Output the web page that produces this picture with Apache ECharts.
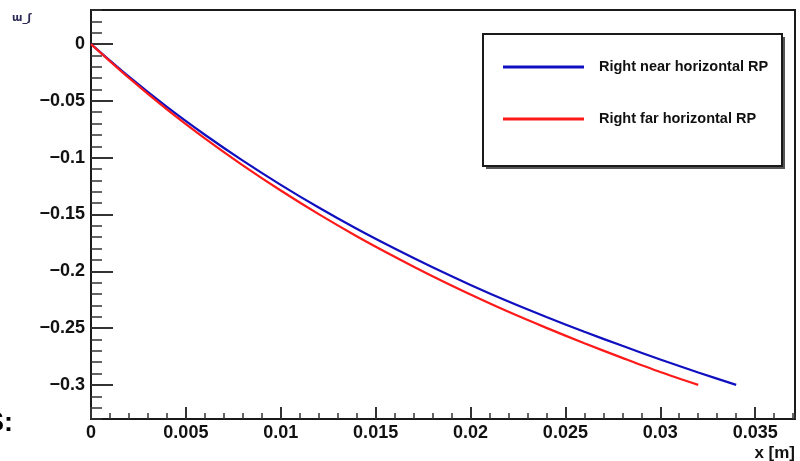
<!DOCTYPE html>
<html>
<head>
<meta charset="utf-8">
<script src="https://cdn.jsdelivr.net/npm/echarts@6/dist/echarts.min.js"></script>
<style>
  html, body { margin: 0; padding: 0; background: #ffffff; }
  #chart { width: 800px; height: 461px; }
</style>
</head>
<body>
<div id="chart"></div>
<script>
// Horizontal displacement of the right-side Roman Pots versus x
const nearX = [0, 0.002, 0.004, 0.006, 0.008, 0.010, 0.012, 0.014, 0.016, 0.018,
               0.020, 0.022, 0.024, 0.026, 0.028, 0.030, 0.032, 0.034];
const nearY = [0, -0.0287, -0.0553, -0.0798, -0.1026, -0.1239, -0.1439, -0.1626, -0.1800, -0.1965,
               -0.2120, -0.2266, -0.2402, -0.2532, -0.2656, -0.2776, -0.2890, -0.3000];
const farX  = [0, 0.002, 0.004, 0.006, 0.008, 0.010, 0.012, 0.014, 0.016, 0.018,
               0.020, 0.022, 0.024, 0.026, 0.028, 0.030, 0.032];
const farY  = [0, -0.0298, -0.0575, -0.0830, -0.1067, -0.1289, -0.1497, -0.1691, -0.1872, -0.2044,
               -0.2205, -0.2357, -0.2498, -0.2633, -0.2762, -0.2887, -0.3000];

const seriesNames = ['Right near horizontal RP', 'Right far horizontal RP'];

const xTicks = [0, 0.005, 0.01, 0.015, 0.02, 0.025, 0.03, 0.035];
const xTickLabels = ['0', '0.005', '0.01', '0.015', '0.02', '0.025', '0.03', '0.035'];
const yTicks = [0, -0.05, -0.1, -0.15, -0.2, -0.25, -0.3];
const yTickLabels = ['0', '\u22120.05', '\u22120.1', '\u22120.15', '\u22120.2', '\u22120.25', '\u22120.3'];

const xTitle = 'x [m]';
const yTitle = '\u026F_\u0283';
const sideText = 'S:';

const FONT = '"Liberation Sans", Arial, Helvetica, sans-serif';
const INK = '#1a1a1a';

function pairs(xs, ys) { return xs.map((x, i) => [x, ys[i]]); }
function labelFor(ticks, labels) {
  return v => {
    const i = ticks.findIndex(t => Math.abs(t - v) < 1e-9);
    return i >= 0 ? labels[i] : '';
  };
}

const X_MIN = 0, X_MAX = 0.0371;
const Y_MIN = -0.33, Y_MAX = 0.03;

const chart = echarts.init(document.getElementById('chart'), null, { renderer: 'canvas' });

chart.setOption({
  backgroundColor: '#ffffff',
  animation: false,
  grid: {
    left: 91, right: 5, top: 10, bottom: 42,
    show: true, borderColor: INK, borderWidth: 2, backgroundColor: 'transparent'
  },
  xAxis: [
    {
      type: 'value', min: X_MIN, max: X_MAX, position: 'bottom',
      axisLine: { show: true, onZero: false, lineStyle: { color: INK, width: 2 } },
      axisTick: { show: true, inside: true, length: 12, customValues: xTicks, lineStyle: { color: '#333', width: 2 } },
      axisLabel: {
        show: true, customValues: xTicks, formatter: labelFor(xTicks, xTickLabels),
        margin: 5, color: '#111', fontSize: 18, fontWeight: 'bold', fontFamily: FONT
      },
      splitLine: { show: false }
    },
    {
      type: 'value', min: X_MIN, max: X_MAX, interval: 0.001, position: 'bottom',
      axisLine: { show: false, onZero: false },
      axisTick: { show: true, inside: true, length: 6, lineStyle: { color: '#333', width: 1.5 } },
      axisLabel: { show: false },
      splitLine: { show: false }
    }
  ],
  yAxis: [
    {
      type: 'value', min: Y_MIN, max: Y_MAX, position: 'left',
      axisLine: { show: true, onZero: false, lineStyle: { color: INK, width: 2 } },
      axisTick: { show: true, inside: true, length: 22, customValues: yTicks, lineStyle: { color: '#333', width: 2 } },
      axisLabel: {
        show: true, customValues: yTicks, formatter: labelFor(yTicks, yTickLabels),
        margin: 6, color: '#111', fontSize: 18, fontWeight: 'bold', fontFamily: FONT
      },
      splitLine: { show: false }
    },
    {
      type: 'value', min: Y_MIN, max: Y_MAX, interval: 0.01, position: 'left', offset: 0,
      axisLine: { show: false, onZero: false },
      axisTick: { show: true, inside: true, length: 11, lineStyle: { color: '#333', width: 1.5 } },
      axisLabel: { show: false },
      splitLine: { show: false }
    }
  ],
  legend: {
    data: seriesNames,
    orient: 'vertical',
    left: 503, top: 58,
    padding: 0,
    itemWidth: 81, itemHeight: 3, itemGap: 34,
    icon: 'rect',
    z: 10,
    textStyle: {
      fontFamily: FONT, fontSize: 14.5, fontWeight: 'bold', color: '#111',
      lineHeight: 18, padding: [0, 0, 0, 10]
    }
  },
  graphic: [
    { type: 'rect', z: 5, shape: { x: 486, y: 37, width: 299, height: 132 }, style: { fill: '#555555' } },
    { type: 'rect', z: 6, shape: { x: 483, y: 34, width: 299, height: 132 }, style: { fill: '#ffffff', stroke: INK, lineWidth: 2 } },
    { type: 'text', z: 6, style: { x: 795, y: 453, text: xTitle, align: 'right', verticalAlign: 'middle', fill: '#111', font: 'bold 17px ' + FONT } },
    { type: 'text', z: 6, style: { x: 12, y: 18, text: yTitle, align: 'left', verticalAlign: 'middle', fill: '#2a2a55', font: 'bold 10px "DejaVu Sans", sans-serif' } },
    { type: 'text', z: 6, style: { x: -14, y: 424, text: sideText, align: 'left', verticalAlign: 'middle', fill: '#000', font: 'bold 27px ' + FONT } }
  ],
  series: [
    {
      name: seriesNames[0], type: 'line', xAxisIndex: 0, yAxisIndex: 0,
      data: pairs(nearX, nearY), showSymbol: false, smooth: 0.3,
      lineStyle: { color: '#1010c0', width: 2.2 }, itemStyle: { color: '#1010c0' }, z: 3
    },
    {
      name: seriesNames[1], type: 'line', xAxisIndex: 0, yAxisIndex: 0,
      data: pairs(farX, farY), showSymbol: false, smooth: 0.3,
      lineStyle: { color: '#ff1a1a', width: 2.2 }, itemStyle: { color: '#ff1a1a' }, z: 4
    }
  ]
});
</script>
</body>
</html>
